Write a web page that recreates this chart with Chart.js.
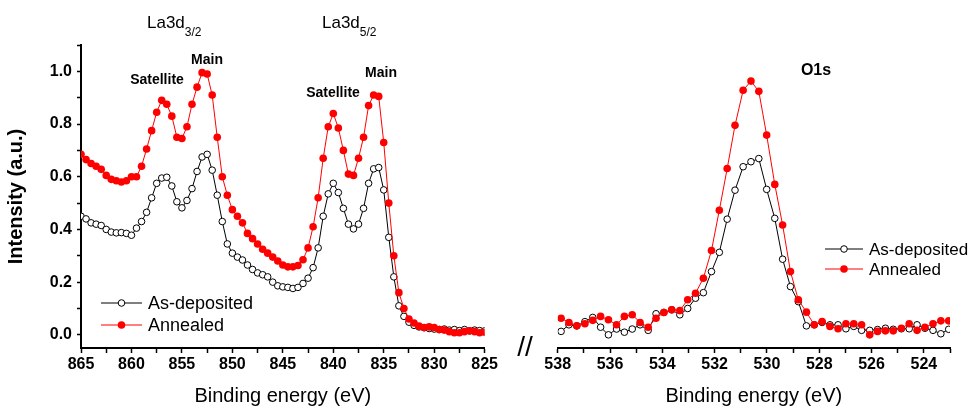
<!DOCTYPE html>
<html>
<head>
<meta charset="utf-8">
<script src="https://cdn.jsdelivr.net/npm/chart.js@4.4.1/dist/chart.umd.min.js"></script>
<style>
  html, body { margin: 0; padding: 0; background: #fff; }
  #wrap { position: relative; width: 974px; height: 406px; overflow: hidden; font-family: "Liberation Sans", Arial, sans-serif; color: #000; }
  canvas { position: absolute; top: 0; }
  .lbl { position: absolute; line-height: 1; white-space: nowrap; transform: translate(-50%, -50%); }
  .hd { position: absolute; line-height: 1; white-space: nowrap; font-size: 17px; }
  .hd span { font-size: 12px; position: relative; top: 8px; }
</style>
</head>
<body>
<div id="wrap">
  <canvas id="c1" width="500" height="406" style="left:0;width:500px;height:406px"></canvas>
  <canvas id="c2" width="474" height="406" style="left:500px;width:474px;height:406px"></canvas>
  <div class="hd" style="left:147px;top:14px">La3d<span>3/2</span></div>
  <div class="hd" style="left:322px;top:14px">La3d<span>5/2</span></div>
  <div class="lbl" style="left:207px;top:59px;font-weight:bold;font-size:14px">Main</div>
  <div class="lbl" style="left:157px;top:79px;font-weight:bold;font-size:14px">Satellite</div>
  <div class="lbl" style="left:333px;top:92px;font-weight:bold;font-size:14px">Satellite</div>
  <div class="lbl" style="left:381px;top:72px;font-weight:bold;font-size:14px">Main</div>
  <div class="lbl" style="left:816px;top:70px;font-weight:bold;font-size:16px">O1s</div>
  <div class="lbl" style="left:525px;top:347px;font-size:28px">//</div>
</div>
<script>
// ---------- data ----------
const laEnergy = [865,864.5,864,863.5,863,862.5,862,861.5,861,860.5,860,859.5,859,858.5,858,857.5,857,856.5,856,855.5,855,854.5,854,853.5,853,852.5,852,851.5,851,850.5,850,849.5,849,848.5,848,847.5,847,846.5,846,845.5,845,844.5,844,843.5,843,842.5,842,841.5,841,840.5,840,839.5,839,838.5,838,837.5,837,836.5,836,835.5,835,834.5,834,833.5,833,832.5,832,831.5,831,830.5,830,829.5,829,828.5,828,827.5,827,826.5,826,825.5,825];
const asDepLa = [0.45,0.44,0.425,0.42,0.415,0.40,0.39,0.387,0.388,0.385,
0.378,0.405,0.43,0.465,0.52,0.575,0.595,0.598,0.565,0.505,
0.482,0.51,0.555,0.62,0.675,0.685,0.625,0.53,0.43,0.345,
0.31,0.295,0.284,0.265,0.248,0.235,0.228,0.22,0.2,0.186,
0.182,0.18,0.176,0.18,0.195,0.215,0.255,0.33,0.45,0.535,
0.575,0.54,0.48,0.42,0.402,0.42,0.48,0.575,0.63,0.635,
0.55,0.37,0.22,0.11,0.07,0.048,0.036,0.03,0.027,0.024,
0.022,0.02,0.022,0.018,0.02,0.016,0.02,0.015,0.018,0.016,
0.015];
const annealedLa = [0.685,0.665,0.65,0.64,0.628,0.605,0.59,0.585,0.58,0.585,
0.6,0.6,0.64,0.705,0.775,0.845,0.89,0.875,0.83,0.75,
0.745,0.79,0.875,0.94,0.995,0.99,0.91,0.75,0.6,0.53,
0.475,0.45,0.425,0.385,0.365,0.345,0.325,0.31,0.295,0.28,
0.265,0.258,0.258,0.263,0.285,0.33,0.41,0.52,0.67,0.79,
0.84,0.785,0.7,0.61,0.605,0.67,0.75,0.87,0.91,0.905,
0.73,0.5,0.3,0.16,0.1,0.06,0.045,0.033,0.028,0.03,
0.028,0.02,0.018,0.012,0.008,0.008,0.012,0.015,0.012,0.008,
0.01];

const oEnergy = [537.87,537.57,537.27,536.96,536.66,536.36,536.06,535.75,535.45,535.15,
534.85,534.54,534.24,533.94,533.64,533.33,533.03,532.73,532.43,532.12,
531.82,531.52,531.22,530.91,530.61,530.31,530.01,529.70,529.40,529.10,
528.80,528.49,528.19,527.89,527.59,527.28,526.98,526.68,526.38,526.07,
525.77,525.47,525.17,524.86,524.56,524.26,523.96,523.65,523.35,523.05];
const asDepO = [0.013,0.038,0.034,0.05,0.066,0.029,0.0,0.022,0.01,0.022,
0.038,0.017,0.08,0.085,0.095,0.076,0.10,0.139,0.16,0.24,
0.313,0.439,0.549,0.638,0.657,0.669,0.552,0.442,0.287,0.183,
0.126,0.034,0.038,0.047,0.038,0.038,0.023,0.032,0.017,0.017,
0.02,0.025,0.021,0.023,0.023,0.038,0.025,0.017,0.004,0.021];
const annealedO = [0.063,0.047,0.034,0.042,0.055,0.07,0.057,0.038,0.07,0.076,
0.047,0.029,0.063,0.085,0.095,0.092,0.133,0.158,0.215,0.32,
0.473,0.631,0.795,0.928,0.963,0.924,0.758,0.571,0.417,0.24,
0.133,0.086,0.038,0.05,0.032,0.023,0.042,0.042,0.038,0.0,
0.013,0.015,0.015,0.025,0.042,0.017,0.029,0.042,0.053,0.053];

const yTickValues = [0,0.1,0.2,0.3,0.4,0.5,0.6,0.7,0.8,0.9,1.0,1.1];
const yTickLabels = ['0.0','','0.2','','0.4','','0.6','','0.8','','1.0',''];
const xTicksLa = [865,862.5,860,857.5,855,852.5,850,847.5,845,842.5,840,837.5,835,832.5,830,827.5,825];
const xLabelsLa = ['865','','860','','855','','850','','845','','840','','835','','830','','825'];
const xTicksO = [538,537,536,535,534,533,532,531,530,529,528,527,526,525,524,523];
const xLabelsO = ['538','','536','','534','','532','','530','','528','','526','','524',''];
const seriesNames = ['As-deposited','Annealed'];
const yTitle = 'Intensity (a.u.)';
const xTitle = 'Binding energy (eV)';

// ---------- helpers ----------
const FONT = '"Liberation Sans", Arial, sans-serif';
Chart.defaults.font.family = FONT;
Chart.defaults.color = '#000';

function pts(xs, ys) { return xs.map((x, i) => ({x: x, y: ys[i]})); }

function datasets(xs, a, b) {
  return [
    { label: seriesNames[0], data: pts(xs, a), order: 1,
      borderColor: '#000', borderWidth: 1, backgroundColor: '#fff',
      pointRadius: 3.3, pointBorderWidth: 1, pointBackgroundColor: '#fff', pointBorderColor: '#000' },
    { label: seriesNames[1], data: pts(xs, b), order: 0,
      borderColor: '#ff0000', borderWidth: 1, backgroundColor: '#ff0000',
      pointRadius: 3.8, pointBorderWidth: 0, pointBackgroundColor: '#ff0000', pointBorderColor: '#ff0000' }
  ];
}

const legendPlugin = {
  id: 'customLegend',
  afterDraw(chart, args, opts) {
    const ctx = chart.ctx;
    ctx.save();
    chart.data.datasets.forEach((ds, i) => {
      const y = opts.y0 + i * opts.dy;
      ctx.strokeStyle = ds.borderColor; ctx.lineWidth = 1;
      ctx.beginPath(); ctx.moveTo(opts.x1, y); ctx.lineTo(opts.x2, y); ctx.stroke();
      const mx = (opts.x1 + opts.x2) / 2;
      ctx.beginPath(); ctx.arc(mx, y, ds.pointRadius, 0, Math.PI * 2);
      ctx.fillStyle = ds.pointBackgroundColor; ctx.fill();
      if (ds.pointBorderWidth > 0) { ctx.lineWidth = ds.pointBorderWidth; ctx.strokeStyle = ds.pointBorderColor; ctx.stroke(); }
      ctx.fillStyle = '#000';
      ctx.font = opts.fontSize + 'px ' + FONT;
      ctx.textBaseline = 'middle'; ctx.textAlign = 'left';
      ctx.fillText(ds.label, opts.x2 + 6, y + 1);
    });
    ctx.restore();
  }
};

function xScale(min, max, ticks, labels) {
  return {
    type: 'linear', min: min, max: max, reverse: true,
    afterBuildTicks: s => { s.ticks = ticks.map(v => ({value: v})); },
    afterFit: s => { s.height = 58; },
    border: { display: true, color: '#000', width: 2 },
    grid: { display: true, drawOnChartArea: false, drawTicks: true, tickLength: 5, tickWidth: 1.5, tickColor: '#000' },
    ticks: { autoSkip: false, maxRotation: 0, padding: 2, font: { size: 16, weight: 'bold' }, color: '#000',
             callback: (v, i) => labels[i] },
    title: { display: true, text: xTitle, font: { size: 20, lineHeight: 1 }, color: '#000', padding: { top: 0, bottom: 0 } }
  };
}

// ---------- left chart ----------
new Chart(document.getElementById('c1'), {
  type: 'line',
  data: { datasets: datasets(laEnergy, asDepLa, annealedLa) },
  options: {
    responsive: false, animation: false, devicePixelRatio: 1,
    layout: { padding: { top: 45, right: 12, left: 0, bottom: 0 } },
    elements: { line: { tension: 0 } },
    plugins: { legend: { display: false }, tooltip: { enabled: false },
               customLegend: { x1: 101, x2: 142, y0: 303, dy: 22, fontSize: 18 } },
    scales: {
      x: xScale(825, 865, xTicksLa, xLabelsLa),
      y: {
        type: 'linear', min: -0.05, max: 1.1,
        afterBuildTicks: s => { s.ticks = yTickValues.map(v => ({value: v})); },
        afterFit: s => { s.width = 81; },
        border: { display: true, color: '#000', width: 2 },
        grid: { display: true, drawOnChartArea: false, drawTicks: true, tickLength: 4, tickWidth: 1.5, tickColor: '#000' },
        ticks: { autoSkip: false, padding: 5, font: { size: 16, weight: 'bold' }, color: '#000',
                 callback: (v, i) => yTickLabels[i] },
        title: { display: true, text: yTitle, font: { size: 20, weight: 'bold', lineHeight: 1 }, color: '#000', padding: { top: 6, bottom: 0 } }
      }
    }
  },
  plugins: [legendPlugin]
});

// ---------- right chart ----------
new Chart(document.getElementById('c2'), {
  type: 'line',
  data: { datasets: datasets(oEnergy, asDepO, annealedO) },
  options: {
    responsive: false, animation: false, devicePixelRatio: 1,
    layout: { padding: { top: 45, right: 24, left: 57.7, bottom: 0 } },
    elements: { line: { tension: 0 } },
    plugins: { legend: { display: false }, tooltip: { enabled: false },
               customLegend: { x1: 325, x2: 363, y0: 249, dy: 20, fontSize: 17 } },
    scales: {
      x: xScale(523, 538, xTicksO, xLabelsO),
      y: { type: 'linear', min: -0.05, max: 1.1, display: false }
    }
  },
  plugins: [legendPlugin]
});
</script>
</body>
</html>
